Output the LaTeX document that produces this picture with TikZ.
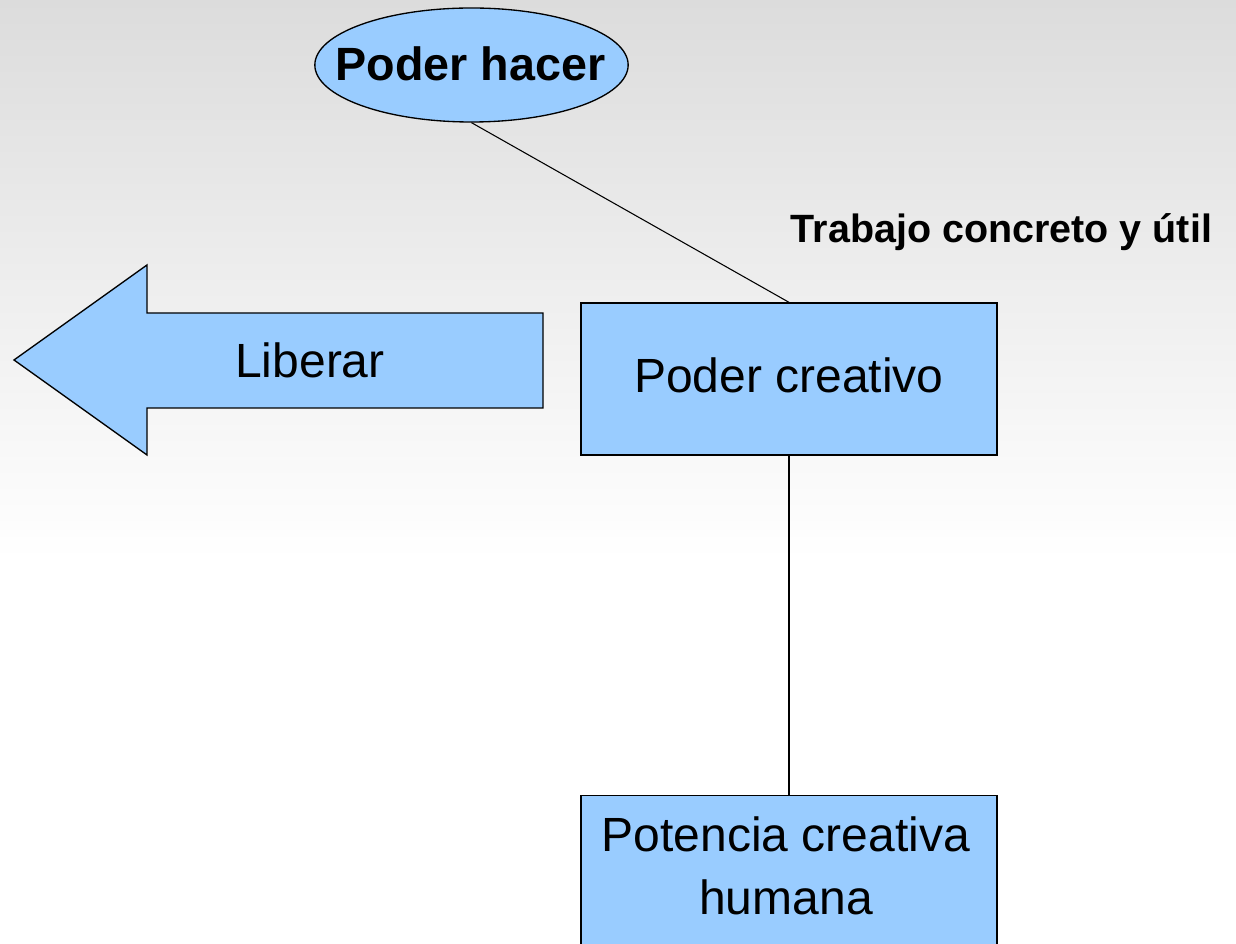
\documentclass[tikz,border=0pt]{standalone}
\usepackage{fontspec}
\setmainfont{Liberation Sans}
\usetikzlibrary{shapes.geometric}
\definecolor{boxblue}{HTML}{99CCFF}
\definecolor{bgtop}{HTML}{DCDCDC}
\begin{document}
\begin{tikzpicture}[x=0.75pt,y=-0.75pt,
  bigtext/.style={font=\fontsize{36}{47}\selectfont},
  boxstyle/.style={draw=black,line width=1pt,fill=boxblue,rectangle,inner sep=0pt,
    minimum width=312pt,minimum height=114pt,bigtext},
  conn/.style={draw=black,line width=0.8pt}]
\useasboundingbox (0,0) rectangle (1236,944);
\clip (0,0) rectangle (1236,944);
\fill[white] (0,0) rectangle (1236,944);
\shade[top color=bgtop,bottom color=white] (0,0) rectangle (1236,560);
% arrow
\filldraw[fill=boxblue,draw=black,line width=1pt,line join=miter]
  (14,360) -- (147,265) -- (147,313) -- (543,313) -- (543,408) -- (147,408) -- (147,455) -- cycle;
\node[bigtext,inner sep=0pt] (lib) at (310,360) {Liberar};
% ellipse
\node[ellipse,draw=black,line width=1pt,fill=boxblue,inner sep=0pt,
  minimum width=235pt,minimum height=85.5pt] (ph) at (471.5,65) {};
\node[anchor=base,inner sep=0pt,font=\fontsize{35}{42}\selectfont\bfseries] (pht) at (470.5,81) {Poder hacer};
% boxes
\node[boxstyle,text height=25.8pt,text depth=4.8pt] (pc) at (789,379) {Poder creativo};
\node[boxstyle,minimum height=160pt,anchor=north] (pch) at (789,795) {};
\node[bigtext,align=center,inner sep=0pt] (pcht) at (786,866) {Potencia creativa\\humana};
% label
\node[anchor=base,inner sep=0pt,font=\fontsize{29.6}{35}\selectfont\bfseries] (tcu) at (1001.5,243) {Trabajo concreto y útil};
% connectors
\draw[conn] (ph.south) -- (pc.north);
\draw[conn] (pc.south) -- (pch.north);
\end{tikzpicture}
\end{document}
